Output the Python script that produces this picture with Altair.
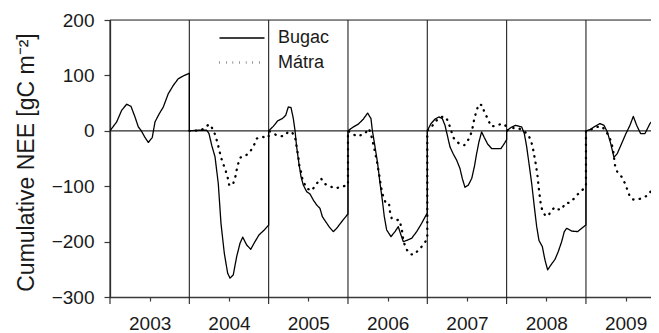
import altair as alt
import pandas as pd

# ---- data (decimal years since 2003.0, cumulative NEE in gC m-2) ----
BUGAC_T = [0, 0.084, 0.147, 0.21, 0.265, 0.315, 0.357, 0.39, 0.441, 0.483, 0.533, 0.567, 0.618, 0.672, 0.735, 0.798, 0.861, 0.924, 0.987, 1.0,
           1.0, 1.113, 1.219, 1.248, 1.282, 1.324, 1.365, 1.399, 1.441, 1.483, 1.513, 1.554, 1.597, 1.639, 1.673, 1.723, 1.774, 1.828, 1.878, 1.945, 2.0,
           2.0, 2.059, 2.114, 2.172, 2.215, 2.248, 2.282, 2.311, 2.332, 2.353, 2.382, 2.408, 2.437, 2.48, 2.521, 2.563, 2.606, 2.647, 2.677, 2.71, 2.761, 2.815, 2.858, 2.921, 3.0,
           3.0, 3.067, 3.13, 3.193, 3.248, 3.29, 3.307, 3.341, 3.374, 3.404, 3.433, 3.458, 3.488, 3.542, 3.593, 3.634, 3.668, 3.697, 3.74, 3.803, 3.866, 3.929, 4.0,
           4.0, 4.046, 4.097, 4.147, 4.189, 4.223, 4.257, 4.286, 4.328, 4.37, 4.412, 4.441, 4.475, 4.517, 4.56, 4.593, 4.622, 4.651, 4.685, 4.718, 4.761, 4.811, 4.874, 4.929, 4.971, 5.0,
           5.0, 5.055, 5.114, 5.19, 5.223, 5.253, 5.282, 5.316, 5.349, 5.379, 5.408, 5.45, 5.483, 5.517, 5.559, 5.61, 5.651, 5.694, 5.727, 5.757, 5.82, 5.895, 5.946, 6.0,
           6.0, 6.05, 6.114, 6.177, 6.227, 6.269, 6.312, 6.353, 6.395, 6.45, 6.504, 6.555, 6.597, 6.639, 6.689, 6.744, 6.807, 6.87, 6.92]
BUGAC_V = [0, 16, 37, 48, 44, 25, 7, 1, -12, -21, -12, 16, 30, 43, 67, 82, 94, 99, 103, 104,
           0, 1, 1, -5, -26, -47, -95, -167, -221, -257, -266, -260, -227, -203, -192, -206, -214, -200, -188, -179, -170,
           0, 8, 18, 22, 28, 43, 42, 22, 1, -29, -59, -83, -98, -110, -114, -125, -134, -140, -155, -162, -173, -182, -176, -164, -150,
           0, 7, 12, 21, 32, 22, 1, -29, -59, -95, -125, -155, -179, -191, -182, -173, -188, -200, -198, -194, -182, -167, -148,
           0, 13, 21, 25, 22, 10, -11, -29, -42, -53, -68, -86, -102, -98, -86, -65, -41, -20, -2, -12, -24, -32, -32, -32, -23, -16,
           0, 6, 10, 7, -5, -29, -59, -95, -137, -173, -198, -209, -233, -251, -242, -232, -218, -200, -182, -176, -181, -182, -176, -170,
           0, 2, 8, 13, 10, -2, -23, -48, -41, -23, -5, 10, 26, 10, -5, -5, 13, 24, 28]

MATRA_T = [1.0, 1.07, 1.15, 1.252, 1.302, 1.332, 1.357, 1.378, 1.399, 1.428, 1.458, 1.483, 1.503, 1.546, 1.576, 1.609, 1.647, 1.702, 1.765, 1.815, 1.849, 1.912, 2.0,
           2.0, 2.101, 2.185, 2.248, 2.29, 2.332, 2.353, 2.374, 2.386, 2.408, 2.424, 2.449, 2.48, 2.543, 2.606, 2.66, 2.71, 2.773, 2.836, 2.921, 3.0,
           3.0, 3.11, 3.206, 3.265, 3.298, 3.332, 3.362, 3.391, 3.416, 3.445, 3.475, 3.517, 3.53, 3.551, 3.601, 3.647, 3.677, 3.697, 3.727, 3.782, 3.823, 3.895, 3.962, 4.0,
           4.0, 4.063, 4.118, 4.172, 4.232, 4.265, 4.299, 4.328, 4.357, 4.412, 4.466, 4.517, 4.56, 4.593, 4.622, 4.651, 4.693, 4.718, 4.761, 4.803, 4.862, 4.945, 5.0,
           5.0, 5.067, 5.147, 5.21, 5.265, 5.307, 5.336, 5.366, 5.391, 5.408, 5.429, 5.45, 5.483, 5.525, 5.559, 5.61, 5.651, 5.694, 5.736, 5.786, 5.853, 5.925, 5.979, 6.0,
           6.0, 6.06, 6.135, 6.198, 6.25, 6.294, 6.324, 6.345, 6.366, 6.395, 6.45, 6.492, 6.521, 6.546, 6.589, 6.647, 6.702, 6.786, 6.84, 6.899]
MATRA_V = [0, 0, 1, 12, 2, -10, -23, -35, -48, -60, -72, -84, -98, -98, -86, -62, -48, -46, -38, -26, -14, -11, -12,
           0, -8, -10, -2, -2, -10, -29, -47, -62, -74, -86, -95, -104, -108, -95, -86, -96, -100, -104, -101, -98,
           0, -10, -6, 4, -11, -32, -53, -77, -101, -119, -130, -131, -146, -158, -161, -161, -176, -197, -212, -222, -224, -215, -203, -195,
           0, 9, 19, 25, 25, 16, 1, -12, -18, -24, -26, -16, -2, 22, 37, 48, 46, 34, 22, 8, 9, 13, 8,
           0, 5, 5, 0, -6, -17, -35, -59, -83, -107, -131, -144, -152, -154, -144, -138, -142, -142, -131, -130, -122, -110, -104, -100,
           0, 2, 7, 8, 0, -11, -23, -38, -62, -74, -83, -95, -106, -116, -124, -124, -122, -116, -104, -90]

YEARS = [2003, 2004, 2005, 2006, 2007, 2008, 2009]
Y_TICKS = [-300, -200, -100, 0, 100, 200]
SITES = ["Bugac", "Mátra"]
X_END = 2009.82

rows = []
for i, (t, v) in enumerate(zip(BUGAC_T, BUGAC_V)):
    rows.append({"t": 2003 + t, "v": v, "site": SITES[0], "i": i})
for i, (t, v) in enumerate(zip(MATRA_T, MATRA_V)):
    rows.append({"t": 2003 + t, "v": v, "site": SITES[1], "i": i})
df = pd.DataFrame(rows)

W, H = 541, 277
FONT = "Liberation Sans"
INK = "#1a1a1a"
AX = "#3a3a3a"

x_scale = alt.Scale(domain=[YEARS[0], X_END], nice=False, zero=False)
y_scale = alt.Scale(domain=[Y_TICKS[0], Y_TICKS[-1]], nice=False)

x_axis = alt.Axis(values=[y + 0.5 for y in YEARS], labelExpr="toString(floor(datum.value))",
                  title=None, grid=False, tickSize=4, labelPadding=13, labelFontSize=19,
                  labelFont=FONT, labelColor=INK, domainColor=AX, tickColor=AX,
                  domainWidth=1.3, tickWidth=1.2, labelFlush=False)
y_axis = alt.Axis(values=Y_TICKS, title="Cumulative NEE [gC m⁻²]", grid=False, tickSize=6,
                  labelPadding=10, labelFontSize=19, labelFont=FONT, labelColor=INK,
                  domainColor=AX, tickColor=AX, domainWidth=1.3, tickWidth=1.2,
                  titleFont=FONT, titleFontSize=23, titleFontWeight="normal", titleColor=INK,
                  titleAngle=270, titleBaseline="alphabetic", titleX=-77, titleY=142)

year_rules = alt.Chart(pd.DataFrame({"yr": YEARS})).mark_rule(color="#222", strokeWidth=1.1).encode(
    x=alt.X("yr:Q", scale=x_scale, axis=x_axis),
    y=alt.value(0), y2=alt.value(H + 7))

hrules = alt.Chart(pd.DataFrame({"h": [0, Y_TICKS[-1]]})).mark_rule(color="#2a2a2a", strokeWidth=1.2).encode(
    y=alt.Y("h:Q", scale=y_scale, axis=y_axis))

lines = alt.Chart(df).mark_line(clip=True, color="black", strokeCap="round", strokeJoin="round").encode(
    x=alt.X("t:Q", scale=x_scale, axis=x_axis),
    y=alt.Y("v:Q", scale=y_scale, axis=y_axis),
    strokeDash=alt.StrokeDash("site:N", scale=alt.Scale(domain=SITES, range=[[1, 0], [0.4, 6.2]]),
                              legend=alt.Legend(orient="none", legendX=120.5, legendY=7, title=None,
                                                symbolType="M-2.25,0H2.25", symbolSize=400,
                                                symbolStrokeWidth=2.0, symbolStrokeColor="black",
                                                symbolFillColor="transparent",
                                                labelFontSize=18, labelFont=FONT, labelColor=INK,
                                                labelOffset=24.5, padding=0, rowPadding=4)),
    strokeWidth=alt.StrokeWidth("site:N", scale=alt.Scale(domain=SITES, range=[1.3, 2.3]), legend=None),
    order="i:Q",
)

chart = alt.layer(year_rules, hrules, lines).properties(
    width=W, height=H,
    autosize=alt.AutoSizeParams(type="none"),
    padding={"left": 102, "top": 12, "right": 0, "bottom": 36},
).configure_view(stroke=None).configure(background="white")

chart.save("out.html", embed_options={"renderer": "svg", "actions": False})
